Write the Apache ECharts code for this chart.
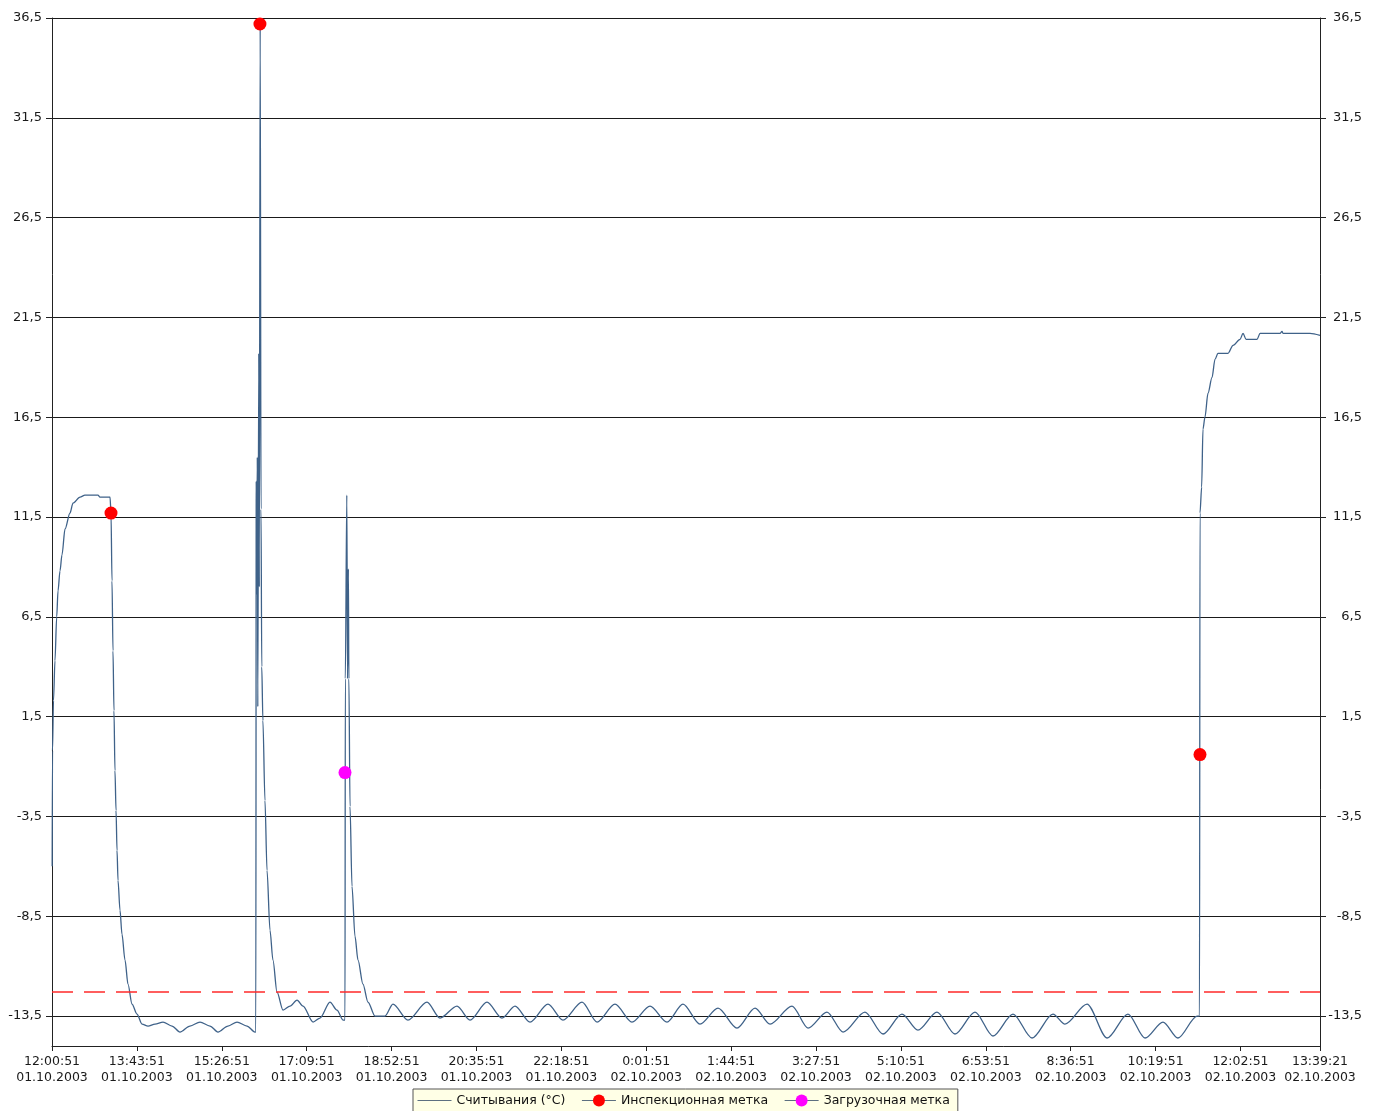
<!DOCTYPE html>
<html>
<head>
<meta charset="utf-8">
<script src="https://cdn.jsdelivr.net/npm/echarts@6/dist/echarts.min.js"></script>
<style>
html,body{margin:0;padding:0;background:#fff;}
#c{width:1378px;height:1111px;}
</style>
</head>
<body>
<div id="c"></div>
<script>
// Minutes since 01.10.2003 12:00:51
const timesMin = [
  0.2, 0.6, 1.8, 3.6, 5.7, 7.3, 9.7, 12.1, 15.8, 21.8, 25.5, 34.0, 40.0, 55.8, 58.2, 70.4, 71.6,
  72.8, 74.0, 75.2, 76.4, 77.7, 78.9, 80.1, 82.5, 84.9, 88.6, 92.2, 97.1, 103.1, 109.2, 116.5,
  125.0, 134.7, 145.6, 155.3, 167.4, 179.6, 191.7, 201.4, 213.5, 224.5, 236.6, 246.3,
  247.3, 247.8, 248.2, 249.1, 249.7, 250.9, 251.5, 252.6, 253.6, 254.5, 255.9, 258.4, 260.9,
  264.5, 268.1, 273.0, 280.3, 288.8, 297.3, 304.6, 316.7, 325.2, 337.3, 345.8, 353.1,
  355.5, 355.9, 357.7, 358.6, 359.6, 360.2, 361.6, 364.0, 367.6, 371.3, 377.3, 383.4, 391.9, 404.0,
  413.7, 431.9, 455.0, 470.8, 491.4, 507.2, 527.8, 546.0, 561.8, 580.0, 601.8, 620.0, 643.1,
  661.3, 683.1, 703.7, 725.6, 746.2, 765.6, 786.2, 808.1, 831.1, 853.0, 871.2, 897.9, 917.3,
  940.3, 959.8, 986.4, 1008.3, 1031.3, 1050.7, 1073.8, 1095.6, 1119.9, 1141.7, 1166.0, 1189.1,
  1214.5, 1229.1, 1255.8, 1280.1, 1305.5, 1326.2, 1348.0, 1366.2, 1389.3, 1392.3,
  1392.9, 1394.9, 1396.5, 1398.9, 1402.6, 1407.5, 1411.1, 1414.7, 1426.9, 1433.0, 1441.5,
  1445.1, 1448.8, 1462.1, 1465.8, 1490.0, 1492.4, 1493.6, 1526.4, 1538.5
];
const temps = [
  -6.0, -0.2, 2.3, 4.3, 6.5, 7.8, 8.8, 9.6, 10.9, 11.7, 12.2, 12.5, 12.6, 12.6, 12.5, 12.5, 11.7,
  8.3, 4.8, 1.8, -1.2, -3.2, -5.2, -6.7, -8.2, -9.4, -10.7, -11.9, -12.9, -13.4, -13.9, -14.0,
  -13.9, -13.8, -14.0, -14.3, -14.0, -13.8, -14.0, -14.3, -14.0, -13.8, -14.0, -14.3,
  -14.3, 13.3, 7.6, 14.5, 2.0, 19.7, 8.0, 36.2, 11.9, 4.0, 1.3, -2.7, -6.2,
  -9.2, -10.7, -12.3, -13.2, -13.0, -12.7, -13.0, -13.8, -13.6, -12.8, -13.2, -13.7,
  -13.7, 3.4, 12.6, 3.4, 8.9, 3.4, -3.0, -7.0, -9.5, -10.7, -11.9, -12.8, -13.5, -13.5,
  -12.9, -13.7, -12.8, -13.6, -13.0, -13.7, -12.8, -13.6, -13.0, -13.8, -12.9, -13.7, -12.8,
  -13.8, -12.9, -13.8, -13.0, -13.8, -12.9, -13.9, -13.1, -14.1, -13.1, -13.9, -13.0, -14.1,
  -13.3, -14.3, -13.3, -14.4, -13.4, -14.2, -13.3, -14.4, -13.3, -14.5, -13.4, -14.6,
  -13.4, -13.9, -12.9, -14.6, -13.4, -14.6, -13.8, -14.6, -13.5, -13.5,
  11.7, 13.0, 15.9, 16.5, 17.7, 18.5, 19.4, 19.7, 19.7, 20.1, 20.4,
  20.7, 20.4, 20.4, 20.7, 20.7, 20.8, 20.7, 20.7, 20.6
];
const inspTimes = [71.6, 252.3, 1392.9];
const inspTemps = [11.7, 36.2, -0.4];
const loadTimes = [355.5];
const loadTemps = [-1.3];
const thresholdTemp = -12.3;
const yTicks = [-13.5, -8.5, -3.5, 1.5, 6.5, 11.5, 16.5, 21.5, 26.5, 31.5, 36.5];
const xTicksMin = [0, 103, 206, 309, 412, 515, 618, 721, 824, 927, 1030, 1133, 1236, 1339, 1442, 1538.5];
const startSec = 12 * 3600 + 51;
const seriesNames = ['Считывания (°C)', 'Инспекционная метка', 'Загрузочная метка'];

function fmtTime(m) {
  let s = Math.round(startSec + m * 60);
  const day = 1 + Math.floor(s / 86400);
  s = s % 86400;
  const h = Math.floor(s / 3600);
  const mi = Math.floor((s % 3600) / 60);
  const se = s % 60;
  const p = v => (v < 10 ? '0' : '') + v;
  return h + ':' + p(mi) + ':' + p(se) + '\n' + p(day) + '.10.2003';
}
const fmtY = v => v.toFixed(1).replace('.', ',');

const mainData = timesMin.map((t, i) => [t, temps[i]]);
const inspData = inspTimes.map((t, i) => [t, inspTemps[i]]);
const loadData = loadTimes.map((t, i) => [t, loadTemps[i]]);

const font = 'DejaVu Sans';
const yAxisCommon = {
  type: 'value', min: -15, max: 36.5,
  axisLine: { show: true, lineStyle: { color: '#222', width: 1 } },
  axisTick: { show: true, length: 6, customValues: yTicks, lineStyle: { color: '#222' } },
  axisLabel: { customValues: yTicks, formatter: fmtY, color: '#1a1a1a', fontFamily: font, fontSize: 13 }
};

const chart = echarts.init(document.getElementById('c'), null, { renderer: 'canvas' });
chart.setOption({
  animation: false,
  backgroundColor: '#fff',
  grid: { left: 52, right: 58, top: 18, bottom: 65, containLabel: false },
  xAxis: {
    type: 'value', min: 0, max: 1538.5,
    axisLine: { show: true, onZero: false, lineStyle: { color: '#222', width: 1 } },
    axisTick: { show: true, length: 5, customValues: xTicksMin, lineStyle: { color: '#222' } },
    axisLabel: { customValues: xTicksMin, formatter: fmtTime, color: '#1a1a1a', fontFamily: font, fontSize: 12.5, lineHeight: 16, margin: 8 },
    splitLine: { show: false }
  },
  yAxis: [
    Object.assign({}, yAxisCommon, {
      position: 'left',
      axisLabel: Object.assign({}, yAxisCommon.axisLabel, { margin: 10 }),
      splitLine: { show: true, lineStyle: { color: '#1a1a1a', width: 1 } }
    }),
    Object.assign({}, yAxisCommon, {
      position: 'right',
      axisLabel: Object.assign({}, yAxisCommon.axisLabel, { margin: 42, align: 'right' }),
      splitLine: { show: false }
    })
  ],
  legend: {
    left: 413, top: 1089,
    padding: [5, 8, 14, 4],
    backgroundColor: '#ffffe6',
    borderColor: '#555', borderWidth: 1, borderRadius: 0,
    itemWidth: 34, itemHeight: 15, itemGap: 16,
    textStyle: { color: '#111', fontFamily: font, fontSize: 12.5 },
    data: [
      { name: seriesNames[0], itemStyle: { opacity: 0 }, lineStyle: { opacity: 1, color: '#5c6f80', width: 1 } },
      { name: seriesNames[1], lineStyle: { opacity: 1, color: '#5c6f80', width: 1 } },
      { name: seriesNames[2], lineStyle: { opacity: 1, color: '#5c6f80', width: 1 } }
    ]
  },
  series: [
    {
      name: seriesNames[0], type: 'line', data: mainData,
      showSymbol: false, symbol: 'none',
      smooth: 0.3, smoothMonotone: 'x',
      lineStyle: { color: '#3f6289', width: 1.3 },
      itemStyle: { color: '#5c6f80' },
      markLine: {
        silent: true, symbol: 'none', label: { show: false },
        lineStyle: { color: '#ff2a2a', type: [21, 11], width: 1.5 },
        data: [{ yAxis: thresholdTemp }]
      },
      z: 3
    },
    {
      name: seriesNames[1], type: 'line', data: inspData,
      symbol: 'circle', symbolSize: 13, showSymbol: true,
      itemStyle: { color: '#ff0000' },
      lineStyle: { opacity: 0, color: '#5c6f80', width: 1 },
      z: 5
    },
    {
      name: seriesNames[2], type: 'line', data: loadData,
      symbol: 'circle', symbolSize: 13, showSymbol: true,
      itemStyle: { color: '#ff00ff' },
      lineStyle: { opacity: 0, color: '#5c6f80', width: 1 },
      z: 5
    }
  ]
});
</script>
</body>
</html>
